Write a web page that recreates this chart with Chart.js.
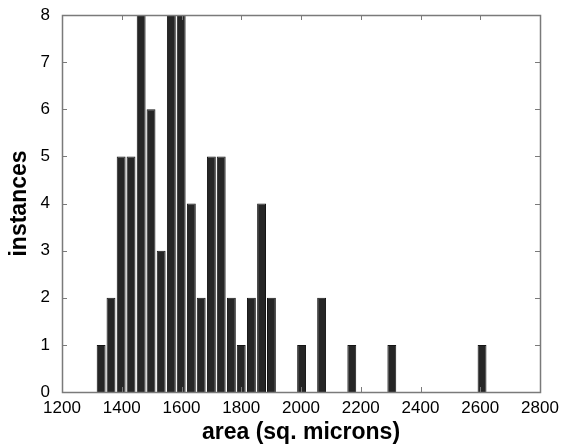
<!DOCTYPE html>
<html>
<head>
<meta charset="utf-8">
<script src="https://cdn.jsdelivr.net/npm/chart.js@4/dist/chart.umd.min.js"></script>
<style>
  html, body { margin: 0; padding: 0; background: #fff; }
  canvas { display: block; }
</style>
</head>
<body>
<canvas id="hist" width="562" height="446"></canvas>
<script>
// histogram bins (centres, sq. microns) and counts
const binCentres = [1331, 1364, 1398, 1431, 1465, 1498, 1532, 1566, 1599, 1633,
                    1666, 1700, 1733, 1767, 1800, 1834, 1868, 1901,
                    2002, 2069, 2170, 2304, 2606];
const counts     = [1, 2, 5, 5, 8, 6, 3, 8, 8, 4,
                    2, 5, 5, 2, 1, 2, 4, 2,
                    1, 2, 1, 1, 1];
const xTicks = [1200, 1400, 1600, 1800, 2000, 2200, 2400, 2600, 2800];
const yTicks = [0, 1, 2, 3, 4, 5, 6, 7, 8];

const axisGrey = '#7a7a7a';
const fontFam = '"Liberation Sans", Arial, sans-serif';

// box round the plot, with short inward ticks on all four sides
const frame = {
    id: 'frame',
    afterDatasetsDraw(chart) {
        const {ctx, chartArea: a, scales} = chart;
        const len = 5;
        ctx.save();
        ctx.strokeStyle = axisGrey;
        ctx.lineWidth = 1;
        ctx.beginPath();
        xTicks.forEach(v => {
            const px = Math.round(scales.x.getPixelForValue(v)) + 0.5;
            ctx.moveTo(px, a.bottom); ctx.lineTo(px, a.bottom - len);
            ctx.moveTo(px, a.top); ctx.lineTo(px, a.top + len);
        });
        yTicks.forEach(v => {
            const py = Math.round(scales.y.getPixelForValue(v)) + 0.5;
            ctx.moveTo(a.left, py); ctx.lineTo(a.left + len, py);
            ctx.moveTo(a.right, py); ctx.lineTo(a.right - len, py);
        });
        ctx.stroke();
        ctx.lineWidth = 1.5;
        ctx.strokeRect(Math.round(a.left) + 0.5, Math.round(a.top) + 0.5,
                       Math.round(a.right - a.left), Math.round(a.bottom - a.top));
        ctx.restore();
    }
};

new Chart(document.getElementById('hist'), {
    type: 'bar',
    data: {
        datasets: [{
            data: binCentres.map((c, i) => ({x: c, y: counts[i]})),
            backgroundColor: '#262626',
            borderColor: '#151515',
            borderWidth: 1,
            barPercentage: 0.9,
            categoryPercentage: 1.0
        }]
    },
    options: {
        responsive: false,
        animation: false,
        devicePixelRatio: 1,
        layout: {padding: {top: 15, right: 22, bottom: 0, left: 0}},
        plugins: {legend: {display: false}, tooltip: {enabled: false}},
        scales: {
            x: {
                type: 'linear',
                offset: false,
                min: 1200, max: 2800,
                afterBuildTicks: s => { s.ticks = xTicks.map(v => ({value: v})); },
                afterFit: s => { s.height = 54; s.paddingLeft = 0; s.paddingRight = 0; },
                grid: {display: false, drawTicks: false, offset: false},
                border: {display: false},
                ticks: {color: '#000', padding: 6, maxRotation: 0, autoSkip: false,
                        callback: v => String(v),
                        font: {family: fontFam, size: 17}},
                title: {display: true, text: 'area (sq. microns)', color: '#000',
                        padding: {top: 0, bottom: 0},
                        font: {family: fontFam, size: 23, weight: 'bold'}}
            },
            y: {
                min: 0, max: 8,
                afterBuildTicks: s => { s.ticks = yTicks.map(v => ({value: v})); },
                afterFit: s => { s.width = 62; s.paddingTop = 0; s.paddingBottom = 0; },
                grid: {display: false, drawTicks: false},
                border: {display: false},
                ticks: {color: '#000', padding: 12, autoSkip: false,
                        callback: v => String(v),
                        font: {family: fontFam, size: 17}},
                title: {display: true, text: 'instances', color: '#000',
                        padding: {top: 6, bottom: 0},
                        font: {family: fontFam, size: 23, weight: 'bold'}}
            }
        }
    },
    plugins: [frame]
});
</script>
</body>
</html>
